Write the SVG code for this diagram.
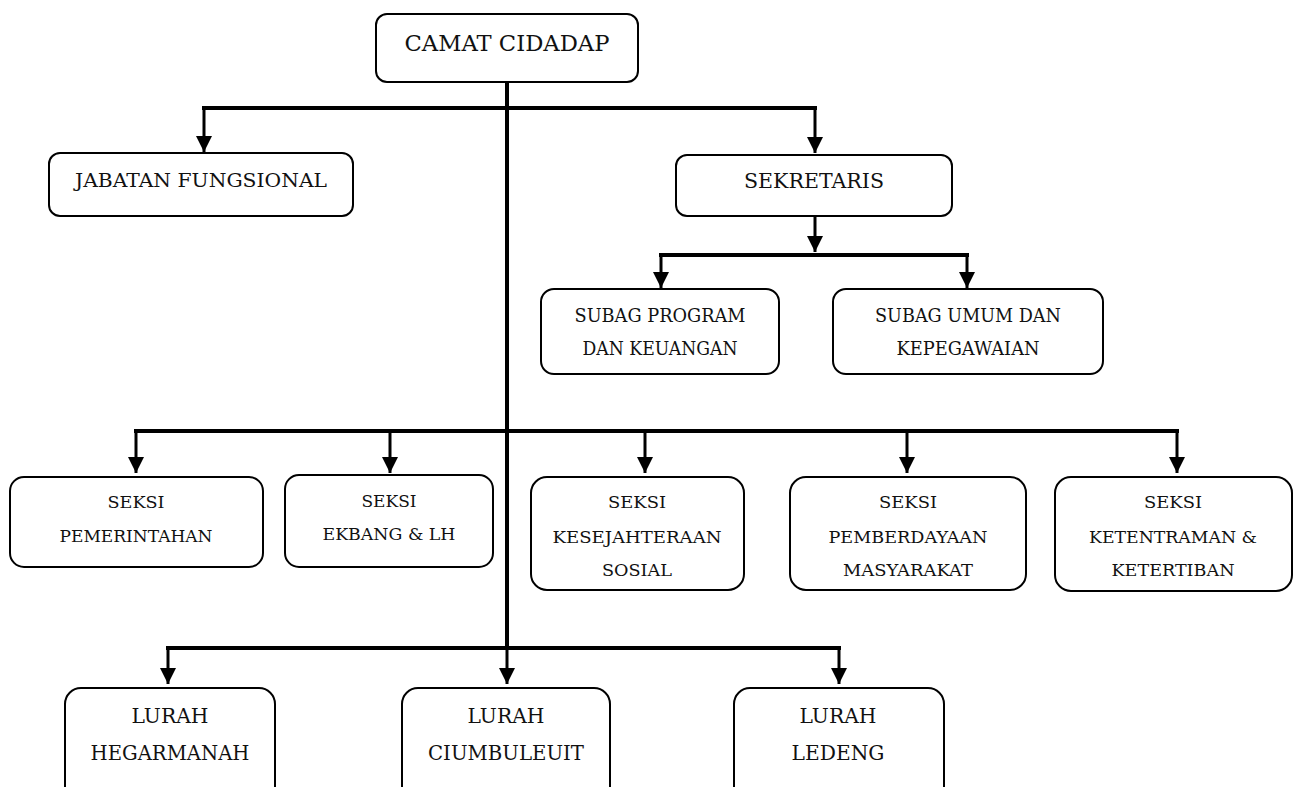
<svg xmlns="http://www.w3.org/2000/svg" width="1293" height="787" viewBox="0 0 1293 787">
<defs>
<style>
.box{fill:#fff;stroke:#000;stroke-width:2}
.t{font-family:"DejaVu Serif","Liberation Serif","Noto Serif",serif;fill:#111;text-anchor:middle}
.bus{fill:none;stroke:#000;stroke-width:4}
.drop{fill:none;stroke:#000;stroke-width:3}
</style>
<marker id="ah" markerUnits="userSpaceOnUse" markerWidth="17" markerHeight="16" refX="16" refY="8" orient="auto" viewBox="0 0 17 16">
<path d="M0,0 L16,8 L0,16 Z" fill="#000"/>
</marker>
</defs>
<rect width="1293" height="787" fill="#fff"/>
<g id="connectors">
<line class="bus" x1="507" y1="82" x2="507" y2="650"/>
<line class="bus" x1="202" y1="108" x2="817" y2="108"/>
<path class="drop" d="M204,108 V152" marker-end="url(#ah)"/>
<path class="drop" d="M815,108 V153" marker-end="url(#ah)"/>
<path class="drop" d="M815,216 V252" marker-end="url(#ah)"/>
<line class="bus" x1="659" y1="255" x2="969" y2="255"/>
<path class="drop" d="M661,255 V288" marker-end="url(#ah)"/>
<path class="drop" d="M967,255 V288" marker-end="url(#ah)"/>
<line class="bus" x1="134" y1="431" x2="1179" y2="431"/>
<path class="drop" d="M136,431 V473" marker-end="url(#ah)"/>
<path class="drop" d="M390,431 V473" marker-end="url(#ah)"/>
<path class="drop" d="M645,431 V473" marker-end="url(#ah)"/>
<path class="drop" d="M907,431 V473" marker-end="url(#ah)"/>
<path class="drop" d="M1177,431 V473" marker-end="url(#ah)"/>
<line class="bus" x1="166" y1="648" x2="841" y2="648"/>
<path class="drop" d="M168,648 V684" marker-end="url(#ah)"/>
<path class="drop" d="M507,648 V684" marker-end="url(#ah)"/>
<path class="drop" d="M839,648 V684" marker-end="url(#ah)"/>
</g>
<g id="camat"><rect class="box" x="376" y="14" width="262" height="68" rx="11"/><text class="t" x="507" y="51" font-size="22" textLength="205" lengthAdjust="spacingAndGlyphs">CAMAT CIDADAP</text></g>
<g id="jabatan"><rect class="box" x="49" y="153" width="304" height="63" rx="11"/><text class="t" x="201" y="187" font-size="19" textLength="252" lengthAdjust="spacingAndGlyphs">JABATAN FUNGSIONAL</text></g>
<g id="sekretaris"><rect class="box" x="676" y="155" width="276" height="61" rx="11"/><text class="t" x="814" y="188" font-size="20" textLength="140" lengthAdjust="spacingAndGlyphs">SEKRETARIS</text></g>
<g id="subag-program"><rect class="box" x="541" y="289" width="238" height="85" rx="13"/><text class="t" x="660" y="322" font-size="18" textLength="171" lengthAdjust="spacingAndGlyphs">SUBAG PROGRAM</text><text class="t" x="660" y="355" font-size="18" textLength="155" lengthAdjust="spacingAndGlyphs">DAN KEUANGAN</text></g>
<g id="subag-umum"><rect class="box" x="833" y="289" width="270" height="85" rx="13"/><text class="t" x="968" y="322" font-size="18" textLength="186" lengthAdjust="spacingAndGlyphs">SUBAG UMUM DAN</text><text class="t" x="968" y="355" font-size="18" textLength="143" lengthAdjust="spacingAndGlyphs">KEPEGAWAIAN</text></g>
<g id="seksi-pemerintahan"><rect class="box" x="10" y="477" width="253" height="90" rx="14"/><text class="t" x="136" y="508" font-size="16.5" textLength="57" lengthAdjust="spacingAndGlyphs">SEKSI</text><text class="t" x="136" y="542" font-size="16.5" textLength="153" lengthAdjust="spacingAndGlyphs">PEMERINTAHAN</text></g>
<g id="seksi-ekbang"><rect class="box" x="285" y="475" width="208" height="92" rx="14"/><text class="t" x="389" y="507" font-size="16.5" textLength="55" lengthAdjust="spacingAndGlyphs">SEKSI</text><text class="t" x="389" y="540" font-size="16.5" textLength="133" lengthAdjust="spacingAndGlyphs">EKBANG &amp; LH</text></g>
<g id="seksi-kesejahteraan"><rect class="box" x="531" y="477" width="213" height="113" rx="16"/><text class="t" x="637" y="508" font-size="16.5" textLength="58" lengthAdjust="spacingAndGlyphs">SEKSI</text><text class="t" x="637" y="543" font-size="16.5" textLength="169" lengthAdjust="spacingAndGlyphs">KESEJAHTERAAN</text><text class="t" x="637" y="576" font-size="16.5" textLength="70" lengthAdjust="spacingAndGlyphs">SOSIAL</text></g>
<g id="seksi-pemberdayaan"><rect class="box" x="790" y="477" width="236" height="113" rx="16"/><text class="t" x="908" y="508" font-size="16.5" textLength="58" lengthAdjust="spacingAndGlyphs">SEKSI</text><text class="t" x="908" y="543" font-size="16.5" textLength="159" lengthAdjust="spacingAndGlyphs">PEMBERDAYAAN</text><text class="t" x="908" y="576" font-size="16.5" textLength="130" lengthAdjust="spacingAndGlyphs">MASYARAKAT</text></g>
<g id="seksi-ketentraman"><rect class="box" x="1055" y="477" width="237" height="114" rx="16"/><text class="t" x="1173" y="508" font-size="16.5" textLength="58" lengthAdjust="spacingAndGlyphs">SEKSI</text><text class="t" x="1173" y="543" font-size="16.5" textLength="168" lengthAdjust="spacingAndGlyphs">KETENTRAMAN &amp;</text><text class="t" x="1173" y="576" font-size="16.5" textLength="123" lengthAdjust="spacingAndGlyphs">KETERTIBAN</text></g>
<g id="lurah-hegarmanah"><rect class="box" x="65" y="688" width="210" height="115" rx="16"/><text class="t" x="170" y="723" font-size="21" textLength="77" lengthAdjust="spacingAndGlyphs">LURAH</text><text class="t" x="170" y="760" font-size="21" textLength="159" lengthAdjust="spacingAndGlyphs">HEGARMANAH</text></g>
<g id="lurah-ciumbuleuit"><rect class="box" x="402" y="688" width="208" height="115" rx="16"/><text class="t" x="506" y="723" font-size="21" textLength="77" lengthAdjust="spacingAndGlyphs">LURAH</text><text class="t" x="506" y="760" font-size="21" textLength="156" lengthAdjust="spacingAndGlyphs">CIUMBULEUIT</text></g>
<g id="lurah-ledeng"><rect class="box" x="734" y="688" width="210" height="115" rx="16"/><text class="t" x="838" y="723" font-size="21" textLength="77" lengthAdjust="spacingAndGlyphs">LURAH</text><text class="t" x="838" y="760" font-size="21" textLength="93" lengthAdjust="spacingAndGlyphs">LEDENG</text></g>
</svg>
